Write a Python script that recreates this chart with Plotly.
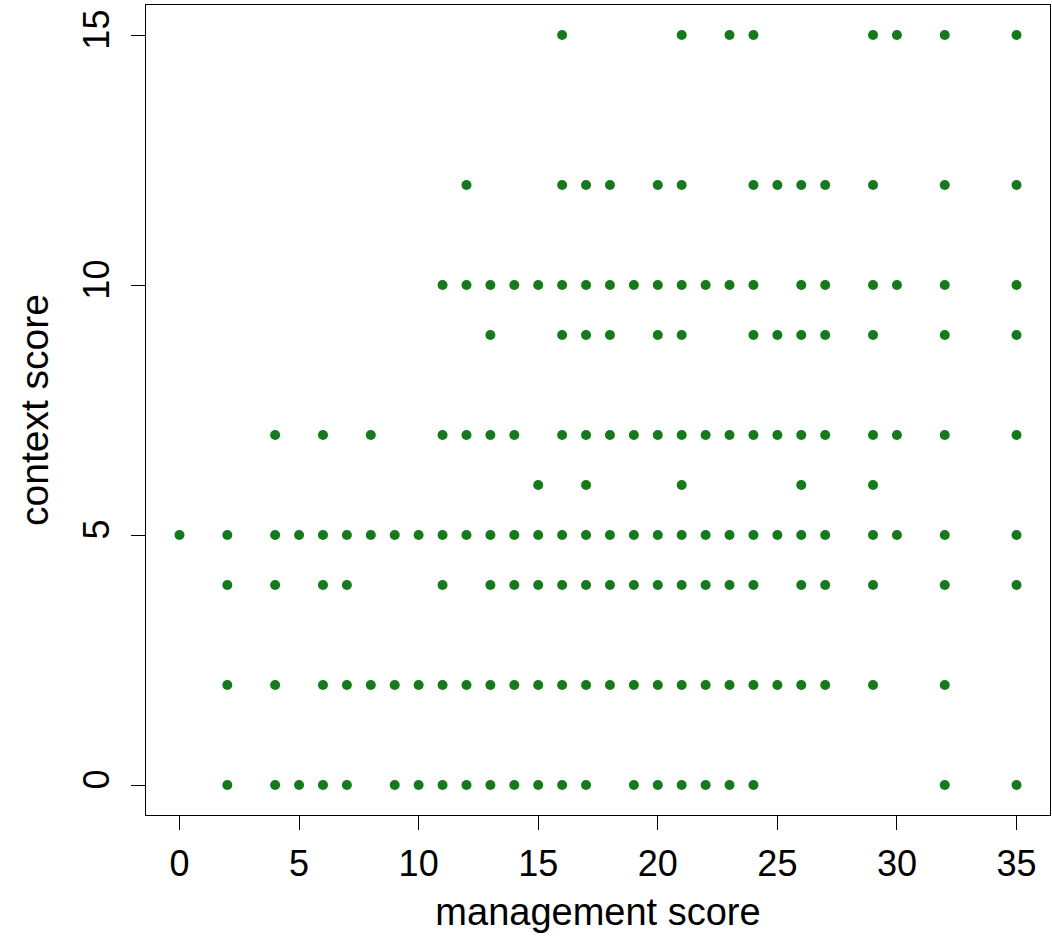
import plotly.graph_objects as go

# management scores observed at each context score level
context_levels = [15, 12, 10, 9, 7, 6, 5, 4, 2, 0]
mgmt_at_15 = [16, 21, 23, 24, 29, 30, 32, 35]
mgmt_at_12 = [12, 16, 17, 18, 20, 21, 24, 25, 26, 27, 29, 32, 35]
mgmt_at_10 = [11, 12, 13, 14, 15, 16, 17, 18, 19, 20, 21, 22, 23, 24, 26, 27, 29, 30, 32, 35]
mgmt_at_9 = [13, 16, 17, 18, 20, 21, 24, 25, 26, 27, 29, 32, 35]
mgmt_at_7 = [4, 6, 8, 11, 12, 13, 14, 16, 17, 18, 19, 20, 21, 22, 23, 24, 25, 26, 27, 29, 30, 32, 35]
mgmt_at_6 = [15, 17, 21, 26, 29]
mgmt_at_5 = [0, 2, 4, 5, 6, 7, 8, 9, 10, 11, 12, 13, 14, 15, 16, 17, 18, 19, 20, 21, 22, 23, 24, 25, 26, 27, 29, 30, 32, 35]
mgmt_at_4 = [2, 4, 6, 7, 11, 13, 14, 15, 16, 17, 18, 19, 20, 21, 22, 23, 24, 26, 27, 29, 32, 35]
mgmt_at_2 = [2, 4, 6, 7, 8, 9, 10, 11, 12, 13, 14, 15, 16, 17, 18, 19, 20, 21, 22, 23, 24, 25, 26, 27, 29, 32]
mgmt_at_0 = [2, 4, 5, 6, 7, 9, 10, 11, 12, 13, 14, 15, 16, 17, 19, 20, 21, 22, 23, 24, 32, 35]

x_ticks = [0, 5, 10, 15, 20, 25, 30, 35]
y_ticks = [0, 5, 10, 15]

groups = [mgmt_at_15, mgmt_at_12, mgmt_at_10, mgmt_at_9, mgmt_at_7,
          mgmt_at_6, mgmt_at_5, mgmt_at_4, mgmt_at_2, mgmt_at_0]
xs, ys = [], []
for lvl, g in zip(context_levels, groups):
    xs.extend(g)
    ys.extend([lvl] * len(g))

FONT = "Liberation Sans, Arial, sans-serif"

fig = go.Figure(go.Scatter(
    x=xs, y=ys, mode="markers",
    marker=dict(color="#157a1c", size=10, line=dict(width=0)),
    showlegend=False, hoverinfo="x+y",
))

fig.update_layout(
    width=1052, height=944,
    margin=dict(l=146, r=2, t=5, b=129),
    paper_bgcolor="white", plot_bgcolor="white",
    font=dict(family=FONT, color="black"),
)
fig.update_xaxes(
    range=[-1.4, 36.4], tickvals=x_ticks, ticks="outside", ticklen=14,
    tickcolor="black", tickwidth=1, showgrid=False, zeroline=False,
    showline=True, mirror=True, linecolor="black", linewidth=1,
    tickfont=dict(size=36), ticklabelstandoff=3,
    title=dict(text="management score", font=dict(size=38), standoff=15),
)
fig.update_yaxes(
    range=[-0.6, 15.6], tickvals=y_ticks, ticks="outside", ticklen=14,
    tickcolor="black", tickwidth=1, showgrid=False, zeroline=False,
    showline=True, mirror=True, linecolor="black", linewidth=1,
    tickfont=dict(size=36), tickangle=-90, ticklabelstandoff=8,
    title=dict(text="context score", font=dict(size=39), standoff=14),
)

fig.write_html("out.html")
